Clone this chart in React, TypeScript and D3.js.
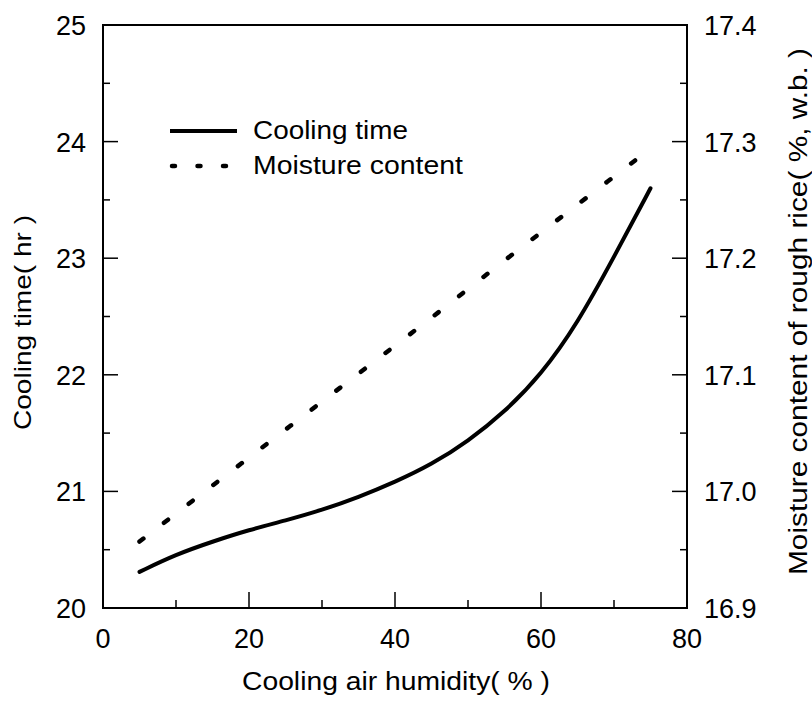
import React from "react";
import * as d3 from "d3";

const humidity = [5, 10, 15, 20, 25, 30, 35, 40, 45, 50, 55, 60, 65, 70, 75];
const coolingTime = [20.31, 20.46, 20.57, 20.67, 20.75, 20.84, 20.95, 21.08, 21.23, 21.43, 21.68, 22.0, 22.44, 23.01, 23.6];
const moistHumidity = [5, 15, 25, 35, 45, 55, 65, 75];
const moisture = [16.957, 17.005, 17.053, 17.101, 17.149, 17.198, 17.246, 17.294];

const xTicks = [0, 20, 40, 60, 80];
const xMinor = [10, 30, 50, 70];
const yLeftTicks = [20, 21, 22, 23, 24, 25];
const yLeftMinor = [20.5, 21.5, 22.5, 23.5, 24.5];
const yRightTicks = [16.9, 17.0, 17.1, 17.2, 17.3, 17.4];
const yRightMinor = [16.95, 17.05, 17.15, 17.25, 17.35];

const W = 812, H = 710;
const L = 103, R = 687, T = 25, B = 608;
const FONT = "Liberation Sans, Arial, sans-serif";

export default function App() {
  const x = d3.scaleLinear().domain([0, 80]).range([L, R]);
  const yL = d3.scaleLinear().domain([20, 25]).range([B, T]);
  const yR = d3.scaleLinear().domain([16.9, 17.4]).range([B, T]);

  const solid = d3.line<number>().x((d, i) => x(humidity[i])).y((d) => yL(d)).curve(d3.curveBasis)(coolingTime) || "";
  const dotted = d3.line<number>().x((d, i) => x(moistHumidity[i])).y((d) => yR(d)).curve(d3.curveCatmullRom.alpha(0.5))(moisture) || "";

  return (
    <svg width={W} height={H} style={{ position: "absolute", left: 0, top: 0, background: "#fff" }} fontFamily={FONT}>
      <rect x={0} y={0} width={W} height={H} fill="#fff" />
      {/* frame */}
      <rect x={L} y={T} width={R - L} height={B - T} fill="none" stroke="#000" strokeWidth={2} />
      {/* bottom ticks */}
      {xTicks.map((t) => (
        <g key={"xt" + t}>
          <line x1={x(t)} x2={x(t)} y1={B} y2={B - 16} stroke="#000" strokeWidth={1.5} />
          <text x={x(t)} y={B + 40} textAnchor="middle" fontSize={27}>{t}</text>
        </g>
      ))}
      {xMinor.map((t) => (
        <line key={"xm" + t} x1={x(t)} x2={x(t)} y1={B} y2={B - 8} stroke="#000" strokeWidth={1.5} />
      ))}
      {/* left ticks */}
      {yLeftTicks.map((t) => (
        <g key={"yl" + t}>
          <line x1={L} x2={L + 15} y1={yL(t)} y2={yL(t)} stroke="#000" strokeWidth={1.5} />
          <text x={L - 17} y={yL(t) + 10} textAnchor="end" fontSize={27}>{t}</text>
        </g>
      ))}
      {yLeftMinor.map((t) => (
        <line key={"ylm" + t} x1={L} x2={L + 7} y1={yL(t)} y2={yL(t)} stroke="#000" strokeWidth={1.5} />
      ))}
      {/* right ticks */}
      {yRightTicks.map((t) => (
        <g key={"yr" + t}>
          <line x1={R} x2={R - 15} y1={yR(t)} y2={yR(t)} stroke="#000" strokeWidth={1.5} />
          <text x={R + 17} y={yR(t) + 10} textAnchor="start" fontSize={27}>{t.toFixed(1)}</text>
        </g>
      ))}
      {yRightMinor.map((t) => (
        <line key={"yrm" + t} x1={R} x2={R - 7} y1={yR(t)} y2={yR(t)} stroke="#000" strokeWidth={1.5} />
      ))}
      {/* data */}
      <path d={solid} fill="none" stroke="#000" strokeWidth={4} strokeLinecap="round" />
      <path d={dotted} fill="none" stroke="#000" strokeWidth={4.5} strokeLinecap="round" strokeDasharray="5 26" />
      {/* legend */}
      <line x1={170} x2={237} y1={131} y2={131} stroke="#000" strokeWidth={4} />
      <text x={253} y={139} fontSize={25} textLength={155} lengthAdjust="spacingAndGlyphs">Cooling time</text>
      <line x1={172} x2={226} y1={166} y2={166} stroke="#000" strokeWidth={4.5} strokeLinecap="round" strokeDasharray="3 22.5" />
      <text x={253} y={174} fontSize={25} textLength={210} lengthAdjust="spacingAndGlyphs">Moisture content</text>
      {/* axis titles */}
      <text x={242} y={690} fontSize={25} textLength={308} lengthAdjust="spacingAndGlyphs">Cooling air humidity( % )</text>
      <text transform="translate(31,430) rotate(-90)" fontSize={24} textLength={215} lengthAdjust="spacingAndGlyphs">Cooling time( hr )</text>
      <text transform="translate(807,575) rotate(-90)" fontSize={25} textLength={527} lengthAdjust="spacingAndGlyphs">Moisture content of rough rice( %, w.b. )</text>
    </svg>
  );
}
